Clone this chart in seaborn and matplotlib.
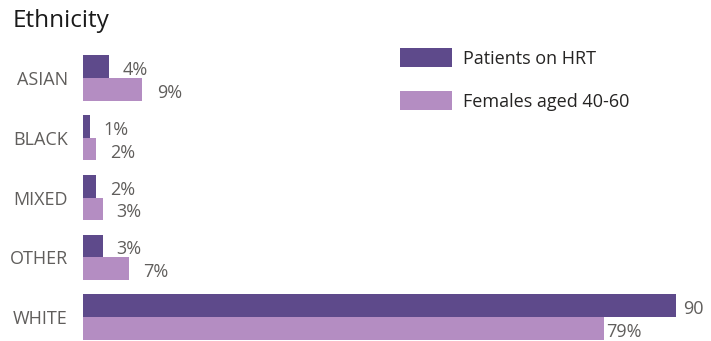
import matplotlib
matplotlib.use("Agg")
import matplotlib.pyplot as plt
import seaborn as sns
import pandas as pd

categories = ["ASIAN", "BLACK", "MIXED", "OTHER", "WHITE"]
hrt_values = [4, 1, 2, 3, 90]
female_values = [9, 2, 3, 7, 79]
hrt_labels = ["4%", "1%", "2%", "3%", "90"]
female_labels = ["9%", "2%", "3%", "7%", "79%"]
series_names = ["Patients on HRT", "Females aged 40-60"]

df = pd.DataFrame({
    "Ethnicity": categories * 2,
    "Value": hrt_values + female_values,
    "Group": [series_names[0]] * len(categories) + [series_names[1]] * len(categories),
})

sns.set_style("white")
plt.rcParams["font.family"] = ["Open Sans", "DejaVu Sans"]

DARK = "#5E4A8B"
LIGHT = "#B48DC2"
GRAY = "#605E5C"

fig = plt.figure(figsize=(7.11, 3.41), dpi=100)
ax = fig.add_axes([83 / 711, 0, (711 - 83) / 711, (341 - 40) / 341])

sns.barplot(data=df, y="Ethnicity", x="Value", hue="Group", orient="h",
            palette=[DARK, LIGHT], width=0.76, saturation=1, linewidth=0,
            ax=ax, order=categories, hue_order=series_names)

ax.set_xlim(0, 95.3)
ax.set_ylim(4.40, -0.636)
for s in ax.spines.values():
    s.set_visible(False)
ax.set_xticks([])
ax.set_xlabel("")
ax.set_ylabel("")
ax.tick_params(axis="y", length=0, pad=11, labelsize=13, labelcolor=GRAY)

# value labels
for cont, labs, offs in zip(ax.containers, [hrt_labels, female_labels],
                            [[9.5, 10, 10, 10, 5], [10.5, 10, 10, 10, 2]]):
    anns = ax.bar_label(cont, labels=labs, padding=10, fontsize=13, color=GRAY)
    for a, o in zip(anns, offs):
        a.xyann = (o, -2.5)

# legend
handles, labels = ax.get_legend_handles_labels()
ax.legend(handles, labels, loc="upper left",
          bbox_to_anchor=(400 / 711, 1 - 48 / 341), bbox_transform=fig.transFigure,
          frameon=False, fontsize=13, borderpad=0, borderaxespad=0,
          handlelength=2.9, handleheight=1.25, handletextpad=0.6,
          labelspacing=1.3, labelcolor="#252423")

fig.text(13 / 711, 1 - 21 / 341, "Ethnicity", fontsize=17.5, va="center",
         ha="left", color="#1a1a1a")

fig.savefig("out.png", dpi=100)
